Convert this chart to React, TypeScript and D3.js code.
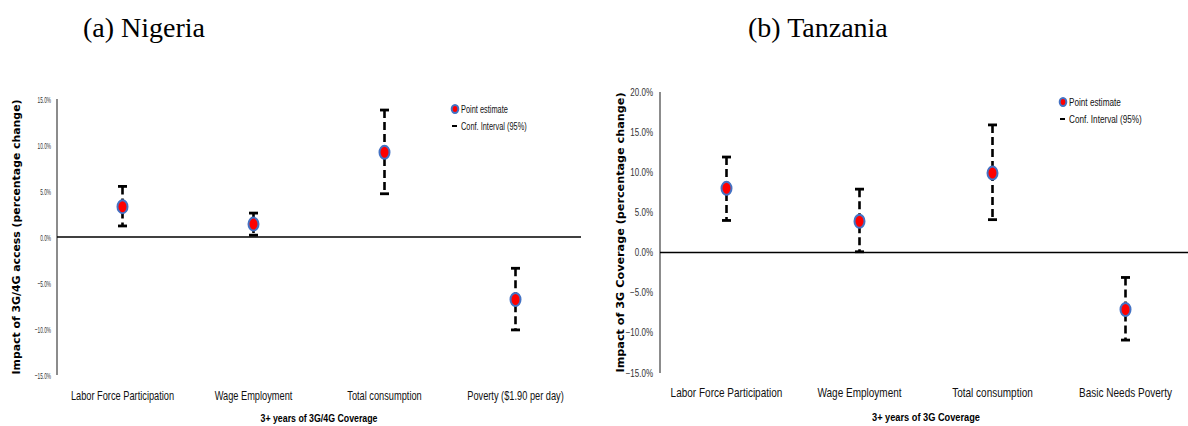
import React from "react";
import * as d3 from "d3";

// (a) Nigeria
const nigeriaCategories = [
  "Labor Force Participation",
  "Wage Employment",
  "Total consumption",
  "Poverty ($1.90 per day)",
];
const nigeriaEstimate = [3.3, 1.4, 9.2, -6.8];
const nigeriaUpper = [5.5, 2.6, 13.8, -3.4];
const nigeriaLower = [1.2, 0.2, 4.7, -10.1];
const nigeriaTicks = [-15, -10, -5, 0, 5, 10, 15];

// (b) Tanzania
const tanzaniaCategories = [
  "Labor Force Participation",
  "Wage Employment",
  "Total consumption",
  "Basic Needs Poverty",
];
const tanzaniaEstimate = [8.0, 3.9, 9.9, -7.1];
const tanzaniaUpper = [11.9, 7.9, 15.9, -3.1];
const tanzaniaLower = [4.0, 0.1, 4.1, -10.9];
const tanzaniaTicks = [-15, -10, -5, 0, 5, 10, 15, 20];

const legendLabels = ["Point estimate", "Conf. Interval (95%)"];

const fmt = (v) => d3.format(".1f")(v) + "%";

const Panel = (props) => {
  const p = props;
  const x = d3.scaleBand().domain(p.categories).range([p.left, p.right]);
  const y = d3
    .scaleLinear()
    .domain(d3.extent(p.ticks))
    .range([p.bottom, p.top]);
  const cx = (c) => x(c) + x.bandwidth() / 2;

  return (
    <g>
      <text
        x={p.subX}
        y={37}
        fontFamily="'Liberation Serif', 'Times New Roman', serif"
        fontSize={28}
        fill="#000"
      >
        {p.subtitle}
      </text>

      {/* y axis */}
      <line x1={p.left} x2={p.left} y1={p.top} y2={p.bottom} stroke="#8c8c8c" strokeWidth={2} />
      {p.ticks.map((t) => (
        <text
          key={t}
          transform={`translate(${p.left - p.tickGap},${y(t) + 3.5}) scale(${p.tickScale},1)`}
          textAnchor="end"
          fontFamily="'Liberation Sans', Arial, sans-serif"
          fontSize={p.tickSize}
          fill="#333"
        >
          {fmt(t)}
        </text>
      ))}
      <line x1={p.left} x2={p.right} y1={y(0)} y2={y(0)} stroke="#000" strokeWidth={1.6} />

      {/* y title */}
      <text
        transform={`translate(${p.yTitleX},${(p.top + p.bottom) / 2}) rotate(-90)`}
        textAnchor="middle"
        fontFamily="'DejaVu Sans', Verdana, sans-serif"
        fontWeight="bold"
        fontSize={10}
        textLength={p.yTitleLen}
        lengthAdjust="spacingAndGlyphs"
        fill="#000"
      >
        {p.yTitle}
      </text>

      {/* category labels */}
      {p.categories.map((c) => (
        <text
          key={c}
          transform={`translate(${cx(c)},${p.catY}) scale(${p.catScale},1)`}
          textAnchor="middle"
          fontFamily="'Liberation Sans', Arial, sans-serif"
          fontSize={p.catSize}
          fill="#111"
        >
          {c}
        </text>
      ))}
      <text
        x={(p.left + p.right) / 2}
        y={p.xTitleY}
        textAnchor="middle"
        fontFamily="'Liberation Sans', Arial, sans-serif"
        fontWeight="bold"
        fontSize={11.5}
        textLength={p.xTitleLen}
        lengthAdjust="spacingAndGlyphs"
        fill="#000"
      >
        {p.xTitle}
      </text>

      {/* error bars */}
      {p.categories.map((c, i) => (
        <g key={c}>
          <line
            x1={cx(c)}
            x2={cx(c)}
            y1={y(p.upper[i])}
            y2={y(p.lower[i])}
            stroke="#000"
            strokeWidth={2.6}
            strokeDasharray="8,4"
          />
          <line x1={cx(c) - 4.5} x2={cx(c) + 4.5} y1={y(p.upper[i])} y2={y(p.upper[i])} stroke="#000" strokeWidth={2.8} />
          <line x1={cx(c) - 4.5} x2={cx(c) + 4.5} y1={y(p.lower[i])} y2={y(p.lower[i])} stroke="#000" strokeWidth={2.8} />
          <ellipse
            cx={cx(c)}
            cy={y(p.estimate[i])}
            rx={5}
            ry={6.5}
            fill="#ff0000"
            stroke="#4472c4"
            strokeWidth={2}
          />
        </g>
      ))}

      {/* legend */}
      <ellipse cx={p.legX} cy={p.legY} rx={3.3} ry={4} fill="#ff0000" stroke="#4472c4" strokeWidth={2} />
      <line x1={p.legX - 3} x2={p.legX + 2} y1={p.legY + 17} y2={p.legY + 17} stroke="#000" strokeWidth={2} />
      {legendLabels.map((l, i) => (
        <text
          key={l}
          transform={`translate(${p.legX + 6},${p.legY + 3.5 + i * 17}) scale(${p.legScale},1)`}
          fontFamily="'Liberation Sans', Arial, sans-serif"
          fontSize={p.legSize}
          fill="#111"
        >
          {l}
        </text>
      ))}
    </g>
  );
};

export default function App() {
  return (
    <svg
      width={1188}
      height={426}
      style={{ position: "absolute", left: 0, top: 0, background: "#fff" }}
    >
      <Panel
        subtitle="(a) Nigeria"
        subX={83}
        categories={nigeriaCategories}
        estimate={nigeriaEstimate}
        upper={nigeriaUpper}
        lower={nigeriaLower}
        ticks={nigeriaTicks}
        left={57}
        right={581}
        top={99}
        bottom={375}
        tickGap={6}
        tickSize={9.5}
        tickScale={0.5}
        yTitle="Impact of 3G/4G access (percentage change)"
        yTitleX={20}
        yTitleLen={275}
        catY={400}
        catSize={12.5}
        catScale={0.74}
        xTitle="3+ years of 3G/4G Coverage"
        xTitleY={422}
        xTitleLen={117}
        legX={455}
        legY={109}
        legSize={10}
        legScale={0.74}
      />
      <Panel
        subtitle="(b) Tanzania"
        subX={748}
        categories={tanzaniaCategories}
        estimate={tanzaniaEstimate}
        upper={tanzaniaUpper}
        lower={tanzaniaLower}
        ticks={tanzaniaTicks}
        left={660}
        right={1192}
        top={92}
        bottom={373}
        tickGap={7}
        tickSize={10}
        tickScale={0.8}
        yTitle="Impact of 3G Coverage (percentage change)"
        yTitleX={624}
        yTitleLen={280}
        catY={397}
        catSize={13}
        catScale={0.77}
        xTitle="3+ years of 3G Coverage"
        xTitleY={421}
        xTitleLen={108}
        legX={1063}
        legY={102}
        legSize={10.5}
        legScale={0.78}
      />
    </svg>
  );
}
